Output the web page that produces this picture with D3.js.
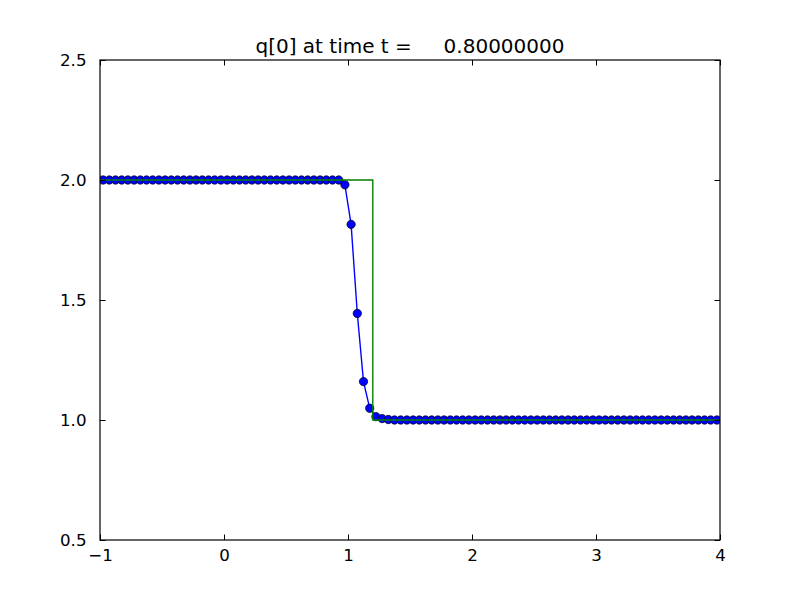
<!DOCTYPE html>
<html><head><meta charset="utf-8">
<script src="https://cdn.jsdelivr.net/npm/d3@7"></script>
<style>body{margin:0;background:#fff}svg{display:block}</style>
</head><body>
<script>
const titleText = "q[0] at time t =     0.80000000";
const xCells = [-0.975,-0.925,-0.875,-0.825,-0.775,-0.725,-0.675,-0.625,-0.575,-0.525,
-0.475,-0.425,-0.375,-0.325,-0.275,-0.225,-0.175,-0.125,-0.075,-0.025,
0.025,0.075,0.125,0.175,0.225,0.275,0.325,0.375,0.425,0.475,
0.525,0.575,0.625,0.675,0.725,0.775,0.825,0.875,0.925,0.975,
1.025,1.075,1.125,1.175,1.225,1.275,1.325,1.375,1.425,1.475,
1.525,1.575,1.625,1.675,1.725,1.775,1.825,1.875,1.925,1.975,
2.025,2.075,2.125,2.175,2.225,2.275,2.325,2.375,2.425,2.475,
2.525,2.575,2.625,2.675,2.725,2.775,2.825,2.875,2.925,2.975,
3.025,3.075,3.125,3.175,3.225,3.275,3.325,3.375,3.425,3.475,
3.525,3.575,3.625,3.675,3.725,3.775,3.825,3.875,3.925,3.975];
const qValues = [2,2,2,2,2,2,2,2,2,2,
2,2,2,2,2,2,2,2,2,2,
2,2,2,2,2,2,2,2,2,2,
2,2,2,2,2,2,2,2,2,1.98,
1.815,1.444,1.160,1.049,1.014,1.006,1.002,1,1,1,
1,1,1,1,1,1,1,1,1,1,
1,1,1,1,1,1,1,1,1,1,
1,1,1,1,1,1,1,1,1,1,
1,1,1,1,1,1,1,1,1,1,
1,1,1,1,1,1,1,1,1,1];
const exactX = [-1, 1.2, 1.2, 4];
const exactQ = [2, 2, 1, 1];
const xTicks = [-1,0,1,2,3,4];
const xTickLabels = ["\u22121","0","1","2","3","4"];
const yTicks = [0.5,1.0,1.5,2.0,2.5];
const yTickLabels = ["0.5","1.0","1.5","2.0","2.5"];

const W=800,H=600, L=100,R=720,T=60,B=540;
const svg=d3.select("body").append("svg").attr("width",W).attr("height",H)
  .style("font-family","'DejaVu Sans', sans-serif");
const x=d3.scaleLinear().domain([-1,4]).range([L,R]);
const y=d3.scaleLinear().domain([0.5,2.5]).range([B,T]);

svg.append("clipPath").attr("id","c").append("rect")
  .attr("x",L).attr("y",T).attr("width",R-L).attr("height",B-T);
const g=svg.append("g").attr("clip-path","url(#c)");

const line=d3.line().x(d=>x(d[0])).y(d=>y(d[1]));
const pts=xCells.map((v,i)=>[v,qValues[i]]);
g.append("path").datum(pts)
  .attr("d",line).attr("fill","none").attr("stroke","#0000ff").attr("stroke-width",1.39);
g.selectAll("circle").data(pts).enter().append("circle")
  .attr("cx",d=>x(d[0])).attr("cy",d=>y(d[1])).attr("r",4.17)
  .attr("fill","#0000ff").attr("stroke","#000").attr("stroke-width",0.7);
g.append("path").datum(exactX.map((v,i)=>[v,exactQ[i]]))
  .attr("d",line).attr("fill","none").attr("stroke","#008000").attr("stroke-width",1.39);

const tl=5.5;
const axB=d3.axisBottom(x).tickValues(xTicks).tickFormat((d,i)=>xTickLabels[i]).tickSizeInner(-tl).tickSizeOuter(0).tickPadding(tl+4);
const axT=d3.axisTop(x).tickValues(xTicks).tickFormat("").tickSizeInner(-tl).tickSizeOuter(0);
const axL=d3.axisLeft(y).tickValues(yTicks).tickFormat((d,i)=>yTickLabels[i]).tickSizeInner(-tl).tickSizeOuter(0).tickPadding(tl+8);
const axR=d3.axisRight(y).tickValues(yTicks).tickFormat("").tickSizeInner(-tl).tickSizeOuter(0);
function styleAx(sel){sel.select(".domain").remove();sel.selectAll("line").attr("stroke","#000").attr("stroke-width",1);
 sel.selectAll("text").attr("font-size","16.67px").attr("fill","#000").style("font-family","'DejaVu Sans', sans-serif");}
svg.append("g").attr("transform",`translate(0,${B})`).call(axB).call(styleAx);
svg.append("g").attr("transform",`translate(0,${T})`).call(axT).call(styleAx);
svg.append("g").attr("transform",`translate(${L},0)`).call(axL).call(styleAx);
svg.append("g").attr("transform",`translate(${R},0)`).call(axR).call(styleAx);
svg.append("rect").attr("x",L).attr("y",T).attr("width",R-L).attr("height",B-T)
  .attr("fill","none").attr("stroke","#000").attr("stroke-width",1.2);

svg.append("text").attr("x",(L+R)/2).attr("y",T-7).attr("text-anchor","middle")
  .attr("font-size","20px").style("white-space","pre").attr("fill","#000").text(titleText);
</script>
</body></html>
